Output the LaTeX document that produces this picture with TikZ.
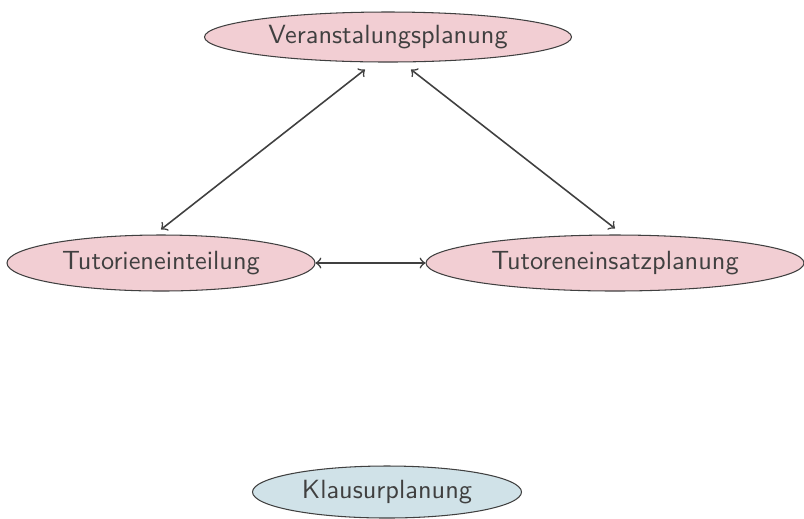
\documentclass[tikz,border=0pt]{standalone}
\usetikzlibrary{shapes.geometric,calc}
\definecolor{rosa}{HTML}{F2CED3}
\definecolor{hellblau}{HTML}{D0E2E8}
\definecolor{dunkel}{HTML}{404040}
\newdimen\px \px=0.38pt
\begin{document}
\begin{tikzpicture}[x=\px,y=-\px,font=\sffamily,
  modul/.style={ellipse,draw=dunkel,text=dunkel,fill=rosa,inner sep=0pt},
  pfeil/.style={<->,draw=dunkel,semithick}]

\useasboundingbox (0,0) rectangle (804,518);

\node[modul,minimum width=367\px,minimum height=50\px] (veranst) at (388,37) {Veranstalungsplanung};
\node[modul,minimum width=308\px,minimum height=56\px] (einteil) at (161,263) {Tutorieneinteilung};
\node[modul,minimum width=378\px,minimum height=56\px] (einsatz) at (615,263) {Tutoreneinsatzplanung};
\node[modul,fill=hellblau,minimum width=269\px,minimum height=52\px] (klausur) at (387,492) {Klausurplanung};

\draw[pfeil] ($(veranst.south)+(-23,7)$) -- ($(einteil.north)+(0,-5)$);
\draw[pfeil] ($(veranst.south)+(23,7)$) -- ($(einsatz.north)+(0,-6)$);
\draw[pfeil] (einteil.east) -- (einsatz.west);
\end{tikzpicture}
\end{document}
